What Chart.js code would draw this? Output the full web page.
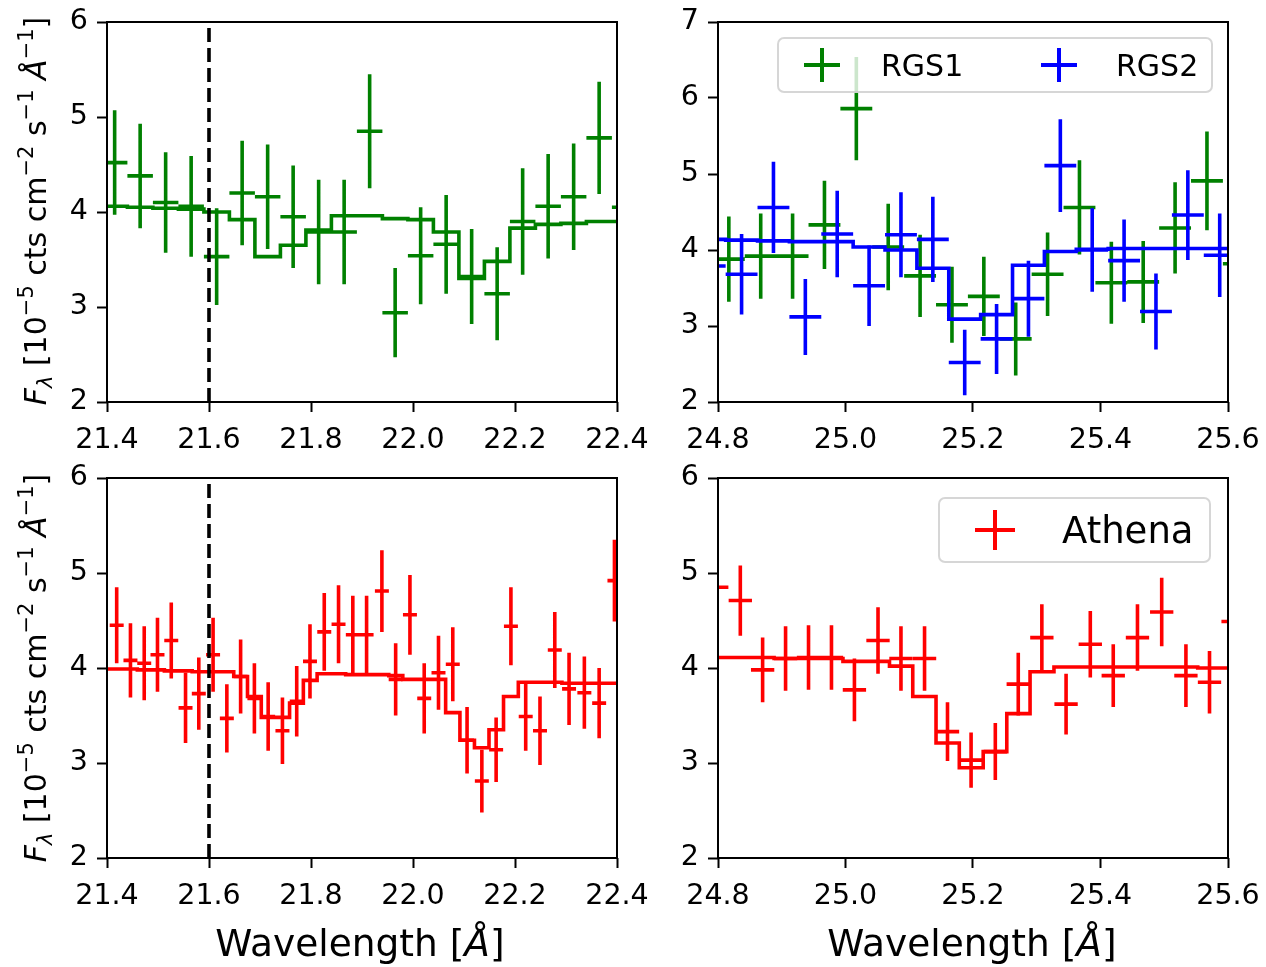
<!DOCTYPE html>
<html>
<head>
<meta charset="utf-8">
<script src="https://cdn.jsdelivr.net/npm/chart.js@4.4.1/dist/chart.umd.min.js"></script>
<style>
  body { margin: 0; background: #fff; }
  #fig { position: relative; width: 1266px; height: 967px; background: #fff; font-family: 'DejaVu Sans', sans-serif; color: #000; overflow: hidden; }
  #fig canvas { position: absolute; left: 0; top: 0; }
  .ylab { position: absolute; white-space: nowrap; font-size: 30px; line-height: 1; transform: translate(-50%, -50%) rotate(-90deg); }
  .xlab { position: absolute; white-space: nowrap; font-size: 37.5px; line-height: 1; transform: translate(-50%, -50%); }
  sup { font-size: 0.7em; vertical-align: 0.6em; line-height: 0; }
  sub { font-size: 0.7em; vertical-align: -0.3em; line-height: 0; }
  .legend { position: absolute; box-sizing: border-box; background: rgba(255, 255, 255, 0.8); border: 2px solid rgba(204, 204, 204, 0.8); border-radius: 7px; }
  .legend .txt { position: absolute; white-space: nowrap; line-height: 1; }
  .mark { position: absolute; }
  .mark::before { content: ''; position: absolute; left: 0; right: 0; top: 50%; height: 4px; margin-top: -2px; background: currentColor; }
  .mark::after { content: ''; position: absolute; top: 0; bottom: 0; left: 50%; width: 4px; margin-left: -2px; background: currentColor; }
</style>
</head>
<body>
<div id="fig">
  <canvas id="panel-tl" width="1266" height="967"></canvas>
  <canvas id="panel-tr" width="1266" height="967"></canvas>
  <canvas id="panel-bl" width="1266" height="967"></canvas>
  <canvas id="panel-br" width="1266" height="967"></canvas>

  <div class="ylab" style="left:36px;top:211px"><i>F</i><sub><i>λ</i></sub> [10<sup>−5</sup> cts cm<sup>−2</sup> s<sup>−1</sup> <i>Å</i><sup>−1</sup>]</div>
  <div class="ylab" style="left:36px;top:668px"><i>F</i><sub><i>λ</i></sub> [10<sup>−5</sup> cts cm<sup>−2</sup> s<sup>−1</sup> <i>Å</i><sup>−1</sup>]</div>
  <div class="xlab" style="left:360px;top:944px">Wavelength [<i>Å</i>]</div>
  <div class="xlab" style="left:972px;top:944px">Wavelength [<i>Å</i>]</div>

  <div class="legend" style="left:777px;top:37px;width:436px;height:56px">
    <span class="mark" style="left:25px;top:9px;width:36px;height:34px;color:#008000"></span>
    <span class="txt" style="left:102px;top:12px;font-size:30px">RGS1</span>
    <span class="mark" style="left:262px;top:9px;width:36px;height:34px;color:#0000ff"></span>
    <span class="txt" style="left:337px;top:12px;font-size:30px">RGS2</span>
  </div>
  <div class="legend" style="left:938px;top:497px;width:273px;height:66px">
    <span class="mark" style="left:35px;top:11px;width:40px;height:40px;color:#ff0000"></span>
    <span class="txt" style="left:122px;top:13px;font-size:37px">Athena</span>
  </div>
</div>

<script>
// axis ticks
const oTicks = [21.4, 21.6, 21.8, 22.0, 22.2, 22.4];
const nTicks = [24.8, 25.0, 25.2, 25.4, 25.6];
const fluxTicks = [2, 3, 4, 5, 6];
const fluxTicksTall = [2, 3, 4, 5, 6, 7];
const restLine = 21.6;

// RGS1, 21.4-22.4 A window
const rgs1OWave = [21.415, 21.465, 21.515, 21.565, 21.615, 21.665, 21.715, 21.765, 21.815, 21.865,
                   21.915, 21.965, 22.015, 22.065, 22.115, 22.165, 22.215, 22.265, 22.315, 22.365, 22.415];
const rgs1OFlux = [4.52, 4.38, 4.10, 4.06, 3.53, 4.20, 4.16, 3.95, 3.79, 3.79,
                   4.85, 2.94, 3.54, 3.66, 3.32, 3.14, 3.90, 4.06, 4.16, 4.78, 4.05];
const rgs1OErr  = [0.55, 0.55, 0.53, 0.53, 0.51, 0.55, 0.55, 0.54, 0.55, 0.55,
                   0.60, 0.47, 0.51, 0.52, 0.50, 0.49, 0.56, 0.55, 0.56, 0.59, 0.55];
const rgs1OModel = [4.06, 4.05, 4.04, 4.03, 4.00, 3.92, 3.53, 3.65, 3.81, 3.96,
                    3.96, 3.93, 3.92, 3.79, 3.30, 3.48, 3.83, 3.87, 3.88, 3.90, 3.90];

// RGS1 and RGS2, 24.8-25.6 A window
const rgs1NWave = [24.817, 24.867, 24.917, 24.967, 25.017, 25.067, 25.117, 25.167, 25.217,
                   25.267, 25.317, 25.367, 25.417, 25.467, 25.517, 25.567, 25.617];
const rgs1NFlux = [3.88, 3.92, 3.92, 4.33, 5.86, 4.04, 3.66, 3.28, 3.39,
                   2.83, 3.68, 4.56, 3.57, 3.58, 4.29, 4.91, 3.82];
const rgs1NErr  = [0.56, 0.56, 0.56, 0.58, 0.68, 0.57, 0.54, 0.50, 0.52,
                   0.48, 0.55, 0.62, 0.54, 0.54, 0.60, 0.65, 0.56];
const rgs2NWave = [24.787, 24.837, 24.887, 24.937, 24.987, 25.037, 25.087, 25.137, 25.187,
                   25.237, 25.287, 25.337, 25.387, 25.437, 25.487, 25.537, 25.587];
const rgs2NFlux = [3.79, 3.68, 4.56, 3.12, 4.21, 3.53, 4.20, 4.14, 2.52,
                   2.83, 3.36, 5.11, 4.00, 3.86, 3.19, 4.46, 3.93];
const rgs2NErr  = [0.55, 0.53, 0.60, 0.50, 0.57, 0.53, 0.56, 0.56, 0.43,
                   0.46, 0.50, 0.61, 0.55, 0.54, 0.50, 0.59, 0.55];
const rgs2NModel = [4.14, 4.13, 4.12, 4.11, 4.11, 4.04, 4.00, 3.76, 3.09,
                    3.15, 3.80, 3.98, 4.01, 4.02, 4.02, 4.02, 4.02];
const rgsHalfBin = 0.025;

// Athena, 21.4-22.4 A window
const athOWave = [21.419, 21.446, 21.473, 21.499, 21.526, 21.554, 21.580, 21.608, 21.635, 21.662,
                  21.689, 21.716, 21.744, 21.772, 21.798, 21.826, 21.854, 21.882, 21.909, 21.939,
                  21.966, 21.994, 22.022, 22.050, 22.078, 22.106, 22.135, 22.163, 22.192, 22.221,
                  22.249, 22.278, 22.306, 22.336, 22.365, 22.395];
const athOFlux = [4.45, 4.08, 4.05, 4.14, 4.29, 3.58, 3.73, 4.14, 3.47, 3.91,
                  3.68, 3.49, 3.34, 3.65, 4.07, 4.38, 4.46, 4.35, 4.35, 4.81,
                  3.88, 4.56, 3.68, 3.95, 4.04, 3.24, 2.81, 3.14, 4.44, 3.49,
                  3.34, 4.19, 3.78, 3.74, 3.63, 4.92];
const athOErr  = [0.40, 0.39, 0.39, 0.39, 0.40, 0.37, 0.38, 0.39, 0.36, 0.39,
                  0.37, 0.36, 0.35, 0.37, 0.39, 0.41, 0.41, 0.41, 0.41, 0.43,
                  0.38, 0.42, 0.37, 0.39, 0.39, 0.35, 0.33, 0.34, 0.41, 0.36,
                  0.36, 0.40, 0.38, 0.38, 0.37, 0.43];
const athOModel = [3.99, 3.99, 3.98, 3.98, 3.97, 3.97, 3.96, 3.96, 3.96, 3.91,
                   3.70, 3.48, 3.48, 3.63, 3.87, 3.94, 3.94, 3.93, 3.93, 3.93,
                   3.92, 3.88, 3.88, 3.88, 3.53, 3.24, 3.16, 3.35, 3.70, 3.85,
                   3.85, 3.85, 3.84, 3.84, 3.84, 3.84];
const athOHalfBin = 0.0137;

// Athena, 24.8-25.6 A window
const athNWave = [24.798, 24.835, 24.870, 24.906, 24.942, 24.978, 25.014, 25.051, 25.087, 25.124,
                  25.160, 25.197, 25.235, 25.271, 25.308, 25.346, 25.384, 25.420, 25.458, 25.496,
                  25.534, 25.571, 25.608];
const athNFlux = [4.85, 4.71, 3.98, 4.10, 4.11, 4.11, 3.77, 4.29, 4.10, 4.10,
                  3.33, 3.03, 3.12, 3.83, 4.32, 3.62, 4.25, 3.92, 4.32, 4.59,
                  3.92, 3.85, 4.49];
const athNErr  = [0.37, 0.37, 0.34, 0.34, 0.34, 0.34, 0.33, 0.35, 0.34, 0.34,
                  0.31, 0.29, 0.30, 0.33, 0.35, 0.32, 0.35, 0.33, 0.35, 0.36,
                  0.33, 0.33, 0.36];
const athNModel = [4.11, 4.11, 4.11, 4.10, 4.10, 4.10, 4.07, 4.07, 4.02, 3.70,
                   3.21, 2.95, 3.12, 3.52, 3.96, 4.01, 4.01, 4.01, 4.01, 4.01,
                   4.01, 4.00, 4.00];
const athNHalfBin = 0.0183;

const FIG_W = 1266, FIG_H = 967;
const Y_AXIS_W = 60, X_AXIS_H = 50;
const LINE_W = 3.6;

// each cross is a vertical and a horizontal segment, separated by null gaps
function errorBars(xs, ys, errs, halfBin, color, order) {
    const pts = [];
    xs.forEach((x, i) => {
        pts.push({ x: x, y: ys[i] - errs[i] }, { x: x, y: ys[i] + errs[i] }, { x: x, y: null });
        pts.push({ x: x - halfBin, y: ys[i] }, { x: x + halfBin, y: ys[i] }, { x: x, y: null });
    });
    return { data: pts, showLine: true, spanGaps: false, borderColor: color, borderWidth: LINE_W,
             borderCapStyle: 'butt', pointRadius: 0, clip: 0, order: order };
}

// binned model, drawn as steps centred on the bins; padded out to the axis edges
function modelSteps(xs, ys, xRange, color, order) {
    const pts = xs.map((x, i) => ({ x: x, y: ys[i] }));
    if (xs[0] > xRange[0]) pts.unshift({ x: xRange[0], y: ys[0] });
    if (xs[xs.length - 1] < xRange[1]) pts.push({ x: xRange[1], y: ys[ys.length - 1] });
    return { data: pts, showLine: true, stepped: 'middle', borderColor: color, borderWidth: LINE_W,
             borderJoinStyle: 'miter', pointRadius: 0, clip: 0, order: order };
}

function dashedMarker(x, yRange) {
    return { data: [{ x: x, y: yRange[0] }, { x: x, y: yRange[1] }], showLine: true,
             borderColor: '#000', borderWidth: 3.6, borderDash: [14, 6], pointRadius: 0, clip: 0, order: 0 };
}

const framePlugin = {
    id: 'frame',
    afterDatasetsDraw(chart) {
        const { ctx, chartArea: a } = chart;
        ctx.save();
        ctx.strokeStyle = '#000';
        ctx.lineWidth = 2;
        ctx.strokeRect(a.left, a.top, a.right - a.left, a.bottom - a.top);
        ctx.restore();
    }
};

function panelOptions(area, xRange, xTicks, yRange, yTicks) {
    const tickFont = { family: 'DejaVu Sans', size: 28.5 };
    const grid = { drawOnChartArea: false, drawTicks: true, tickLength: 10, tickWidth: 2, tickColor: '#000' };
    return {
        responsive: false,
        animation: false,
        events: [],
        layout: {
            padding: {
                left: area.left - Y_AXIS_W,
                top: area.top,
                right: FIG_W - area.right,
                bottom: FIG_H - area.bottom - X_AXIS_H
            }
        },
        plugins: { legend: { display: false }, tooltip: { enabled: false } },
        scales: {
            x: {
                type: 'linear', min: xRange[0], max: xRange[1],
                afterBuildTicks: s => { s.ticks = xTicks.map(v => ({ value: v })); },
                // fixed axis box; labels may overhang the plot edges
                afterFit: s => { s.height = X_AXIS_H; s.paddingLeft = 0; s.paddingRight = 0; },
                ticks: { font: tickFont, color: '#000', padding: 11, maxRotation: 0, autoSkip: false,
                         callback: v => v.toFixed(1) },
                grid: grid,
                border: { display: false }
            },
            y: {
                type: 'linear', min: yRange[0], max: yRange[1],
                afterBuildTicks: s => { s.ticks = yTicks.map(v => ({ value: v })); },
                afterFit: s => { s.width = Y_AXIS_W; s.paddingTop = 0; s.paddingBottom = 0; },
                ticks: { font: tickFont, color: '#000', padding: 9, autoSkip: false,
                         callback: v => String(v) },
                grid: grid,
                border: { display: false }
            }
        }
    };
}

const oRange = [21.4, 22.4], nRange = [24.8, 25.6];
const areaTL = { left: 107, top: 22, right: 617, bottom: 402 };
const areaTR = { left: 718, top: 22, right: 1228, bottom: 402 };
const areaBL = { left: 107, top: 478, right: 617, bottom: 858 };
const areaBR = { left: 718, top: 478, right: 1228, bottom: 858 };

new Chart(document.getElementById('panel-tl'), {
    type: 'scatter',
    data: { datasets: [
        dashedMarker(restLine, [2, 6]),
        modelSteps(rgs1OWave, rgs1OModel, oRange, '#008000', 2),
        errorBars(rgs1OWave, rgs1OFlux, rgs1OErr, rgsHalfBin, '#008000', 3)
    ] },
    options: panelOptions(areaTL, oRange, oTicks, [2, 6], fluxTicks),
    plugins: [framePlugin]
});

new Chart(document.getElementById('panel-tr'), {
    type: 'scatter',
    data: { datasets: [
        modelSteps(rgs2NWave, rgs2NModel, nRange, '#0000ff', 1),
        errorBars(rgs2NWave, rgs2NFlux, rgs2NErr, rgsHalfBin, '#0000ff', 2),
        errorBars(rgs1NWave, rgs1NFlux, rgs1NErr, rgsHalfBin, '#008000', 3)
    ] },
    options: panelOptions(areaTR, nRange, nTicks, [2, 7], fluxTicksTall),
    plugins: [framePlugin]
});

new Chart(document.getElementById('panel-bl'), {
    type: 'scatter',
    data: { datasets: [
        dashedMarker(restLine, [2, 6]),
        modelSteps(athOWave, athOModel, oRange, '#ff0000', 2),
        errorBars(athOWave, athOFlux, athOErr, athOHalfBin, '#ff0000', 3)
    ] },
    options: panelOptions(areaBL, oRange, oTicks, [2, 6], fluxTicks),
    plugins: [framePlugin]
});

new Chart(document.getElementById('panel-br'), {
    type: 'scatter',
    data: { datasets: [
        modelSteps(athNWave, athNModel, nRange, '#ff0000', 2),
        errorBars(athNWave, athNFlux, athNErr, athNHalfBin, '#ff0000', 3)
    ] },
    options: panelOptions(areaBR, nRange, nTicks, [2, 6], fluxTicks),
    plugins: [framePlugin]
});
</script>
</body>
</html>
